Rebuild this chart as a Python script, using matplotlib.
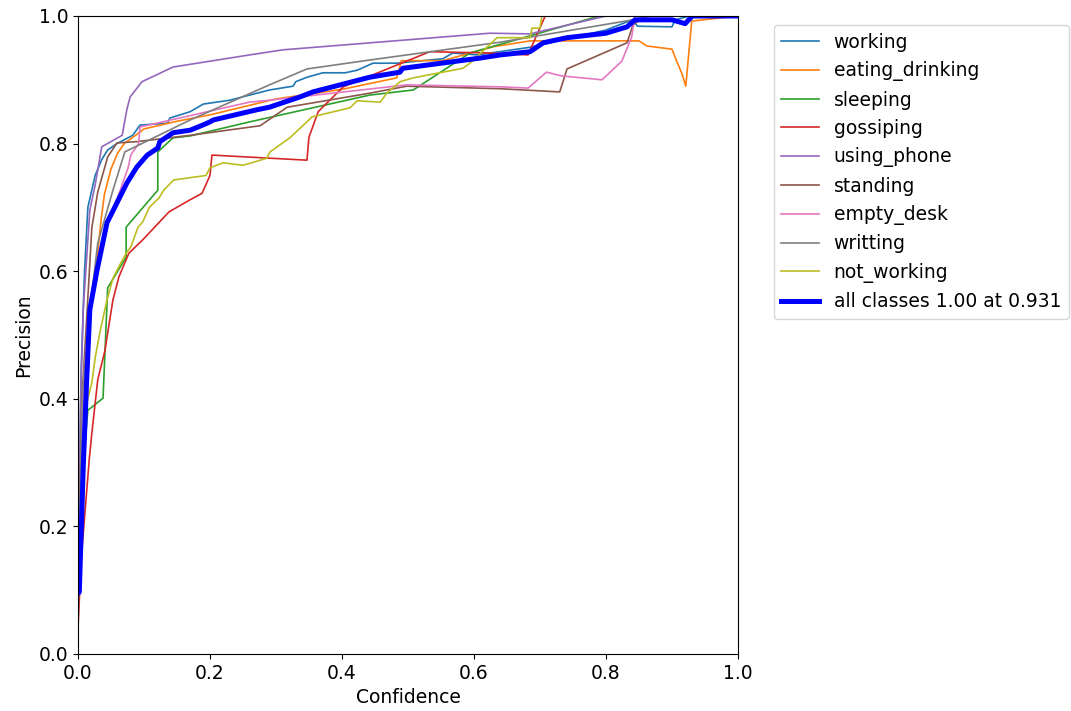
import matplotlib
matplotlib.use("Agg")
import matplotlib.pyplot as plt

plt.rcParams['font.size'] = 13.5

# confidence / precision points
working_x = [0.0, 0.005, 0.01, 0.015, 0.026, 0.036, 0.045, 0.059, 0.083, 0.094, 0.136, 0.139, 0.17, 0.19, 0.23,
             0.29, 0.326, 0.33, 0.347, 0.371, 0.405, 0.423, 0.447, 0.483, 0.553, 0.568, 0.605, 0.685, 0.80,
             0.84, 0.848, 0.90, 0.905, 0.927, 1.0]
working_y = [0.1, 0.45, 0.6, 0.7, 0.75, 0.775, 0.79, 0.80, 0.813, 0.829, 0.832, 0.84, 0.85, 0.862, 0.868,
             0.884, 0.89, 0.897, 0.904, 0.911, 0.911, 0.915, 0.926, 0.926, 0.933, 0.942, 0.939, 0.951, 0.978,
             0.994, 0.984, 0.983, 0.994, 1.0, 1.0]

eating_x = [0.0, 0.01, 0.02, 0.03, 0.035, 0.04, 0.05, 0.06, 0.07, 0.09, 0.1, 0.15, 0.2, 0.3, 0.4, 0.483,
            0.49, 0.553, 0.63, 0.685, 0.85, 0.862, 0.90, 0.907, 0.915, 0.921, 0.93, 1.0]
eating_y = [0.1, 0.4, 0.55, 0.63, 0.68, 0.72, 0.76, 0.785, 0.80, 0.815, 0.823, 0.835, 0.845, 0.87, 0.885, 0.903,
            0.93, 0.93, 0.952, 0.961, 0.961, 0.953, 0.948, 0.93, 0.91, 0.89, 0.992, 1.0]

sleeping_x = [0.0, 0.008, 0.015, 0.038, 0.045, 0.073, 0.073, 0.121, 0.121, 0.144, 0.17, 0.26, 0.442, 0.508,
              0.594, 0.79, 1.0]
sleeping_y = [0.08, 0.3, 0.382, 0.401, 0.574, 0.622, 0.669, 0.727, 0.787, 0.809, 0.812, 0.834, 0.876, 0.884,
              0.942, 1.0, 1.0]

gossiping_x = [0.0, 0.005, 0.017, 0.021, 0.03, 0.041, 0.045, 0.053, 0.062, 0.077, 0.098, 0.138, 0.17, 0.188,
               0.2, 0.203, 0.347, 0.35, 0.364, 0.402, 0.533, 0.624, 0.682, 0.69, 0.708, 1.0]
gossiping_y = [0.04, 0.15, 0.304, 0.346, 0.43, 0.476, 0.503, 0.555, 0.591, 0.628, 0.649, 0.693, 0.712, 0.722,
               0.75, 0.782, 0.774, 0.81, 0.85, 0.889, 0.944, 0.942, 0.939, 0.958, 1.0, 1.0]

phone_x = [0.0, 0.004, 0.008, 0.018, 0.026, 0.036, 0.067, 0.074, 0.079, 0.097, 0.144, 0.26, 0.311, 0.624,
           0.685, 0.80, 1.0]
phone_y = [0.1, 0.4, 0.54, 0.696, 0.735, 0.795, 0.813, 0.853, 0.873, 0.897, 0.92, 0.939, 0.947, 0.973,
           0.972, 1.0, 1.0]

standing_x = [0.0, 0.006, 0.014, 0.021, 0.03, 0.045, 0.059, 0.089, 0.17, 0.276, 0.317, 0.442, 0.498, 0.64,
              0.73, 0.741, 0.832, 0.841, 0.86, 1.0]
standing_y = [0.1, 0.4, 0.54, 0.668, 0.724, 0.779, 0.801, 0.803, 0.813, 0.828, 0.857, 0.879, 0.89, 0.886,
              0.881, 0.917, 0.958, 0.986, 1.0, 1.0]

desk_x = [0.0, 0.01, 0.02, 0.035, 0.05, 0.064, 0.076, 0.08, 0.092, 0.094, 0.26, 0.29, 0.498, 0.64, 0.682,
          0.71, 0.733, 0.794, 0.824, 0.839, 0.844, 1.0]
desk_y = [0.1, 0.45, 0.56, 0.64, 0.69, 0.727, 0.762, 0.782, 0.80, 0.826, 0.865, 0.868, 0.892, 0.889, 0.887,
          0.912, 0.906, 0.90, 0.929, 0.967, 1.0, 1.0]

writting_x = [0.0, 0.006, 0.018, 0.03, 0.053, 0.071, 0.17, 0.29, 0.347, 0.442, 0.64, 0.841, 0.87, 1.0]
writting_y = [0.05, 0.4, 0.54, 0.644, 0.727, 0.787, 0.837, 0.892, 0.917, 0.931, 0.959, 0.994, 1.0, 1.0]

notworking_x = [0.0, 0.005, 0.011, 0.013, 0.021, 0.026, 0.033, 0.044, 0.053, 0.065, 0.073, 0.08, 0.091, 0.098,
                0.108, 0.123, 0.13, 0.145, 0.194, 0.2, 0.22, 0.25, 0.286, 0.291, 0.321, 0.355, 0.412, 0.423,
                0.458, 0.468, 0.488, 0.508, 0.583, 0.594, 0.635, 0.685, 0.688, 0.70, 0.703, 1.0]
notworking_y = [0.1, 0.25, 0.34, 0.393, 0.425, 0.464, 0.503, 0.555, 0.589, 0.613, 0.628, 0.638, 0.669, 0.677,
                0.70, 0.715, 0.727, 0.743, 0.75, 0.762, 0.77, 0.766, 0.777, 0.787, 0.809, 0.842, 0.856, 0.867,
                0.865, 0.879, 0.897, 0.903, 0.918, 0.926, 0.966, 0.966, 0.981, 0.981, 1.0, 1.0]

all_x = [0.0, 0.002, 0.008, 0.013, 0.018, 0.029, 0.044, 0.059, 0.074, 0.089, 0.105, 0.121, 0.124, 0.144,
         0.17, 0.189, 0.2, 0.205, 0.271, 0.29, 0.336, 0.356, 0.442, 0.488, 0.492, 0.609, 0.64, 0.685, 0.705,
         0.741, 0.80, 0.832, 0.844, 0.90, 0.92, 0.931, 1.0]
all_y = [0.095, 0.097, 0.293, 0.425, 0.54, 0.602, 0.676, 0.707, 0.738, 0.763, 0.782, 0.793, 0.803, 0.817,
         0.821, 0.829, 0.834, 0.837, 0.853, 0.857, 0.873, 0.881, 0.904, 0.912, 0.918, 0.934, 0.939, 0.944,
         0.958, 0.966, 0.973, 0.983, 0.994, 0.994, 0.988, 1.0, 1.0]

names = ['working', 'eating_drinking', 'sleeping', 'gossiping', 'using_phone',
         'standing', 'empty_desk', 'writting', 'not_working']
xs = [working_x, eating_x, sleeping_x, gossiping_x, phone_x, standing_x, desk_x, writting_x, notworking_x]
ys = [working_y, eating_y, sleeping_y, gossiping_y, phone_y, standing_y, desk_y, writting_y, notworking_y]

fig = plt.figure(figsize=(10.71, 7.11), dpi=100)
ax = fig.add_axes([0.0728, 0.0802, 0.6162, 0.8973])

for i in range(len(names)):
    ax.plot(xs[i], ys[i], linewidth=1.2, label=names[i])
ax.plot(all_x, all_y, linewidth=3.6, color='blue', label='all classes 1.00 at 0.931')

ax.set_xlabel('Confidence')
ax.set_ylabel('Precision')
ax.set_xlim(0, 1)
ax.set_ylim(0, 1)
ax.legend(bbox_to_anchor=(1.04, 1), loc='upper left')

plt.savefig('out.png')
